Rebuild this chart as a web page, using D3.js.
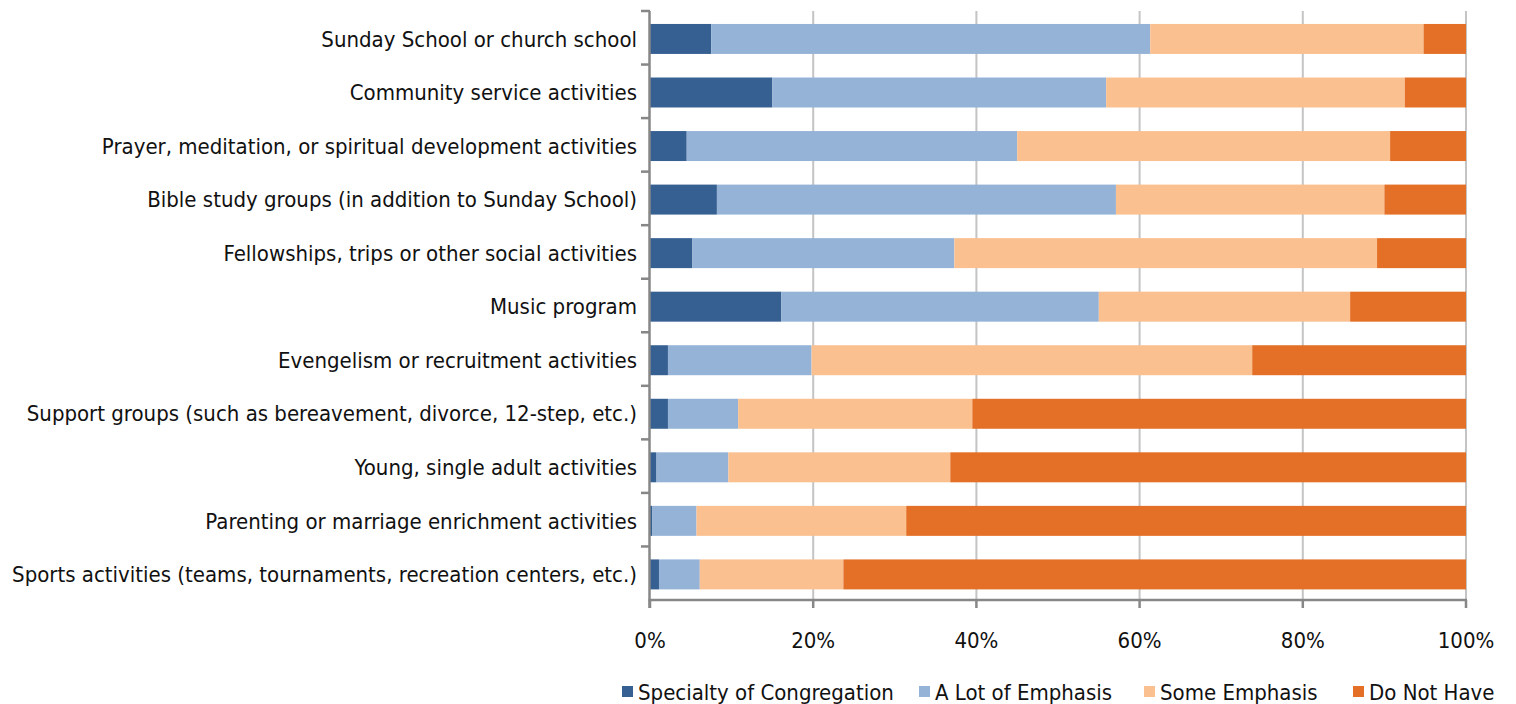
<!DOCTYPE html>
<html>
<head>
<meta charset="utf-8">
<script src="https://cdn.jsdelivr.net/npm/d3@7"></script>
<style>
  html, body { margin: 0; padding: 0; background: #fff; }
  svg { display: block; }
  text { font-family: "DejaVu Sans Condensed", "DejaVu Sans", sans-serif; font-stretch: condensed; fill: #111; }
</style>
</head>
<body>
<svg id="chart" width="1516" height="704"></svg>
<script>
// Program categories, top to bottom
const categories = [
  "Sunday School or church school",
  "Community service activities",
  "Prayer, meditation, or spiritual development activities",
  "Bible study groups (in addition to Sunday School)",
  "Fellowships, trips or other social activities",
  "Music program",
  "Evengelism or recruitment activities",
  "Support groups (such as bereavement, divorce, 12-step, etc.)",
  "Young, single adult activities",
  "Parenting or marriage enrichment activities",
  "Sports activities (teams, tournaments, recreation centers, etc.)"
];

const seriesNames = ["Specialty of Congregation", "A Lot of Emphasis", "Some Emphasis", "Do Not Have"];

// Percent of congregations in each response group
const specialty = [7.5, 15.0, 4.5, 8.2, 5.2, 16.1, 2.2, 2.2, 0.8, 0.3, 1.1];
const aLot      = [53.8, 40.9, 40.5, 48.9, 32.1, 38.9, 17.6, 8.6, 8.8, 5.4, 5.0];
const some      = [33.5, 36.6, 45.7, 32.9, 51.8, 30.8, 54.0, 28.7, 27.2, 25.7, 17.6];
const doNotHave = [5.2, 7.5, 9.3, 10.0, 10.9, 14.2, 26.2, 60.5, 63.2, 68.6, 76.3];

const xTicks = [0, 20, 40, 60, 80, 100];
const colors = ["#376092", "#95B3D7", "#FAC090", "#E37026"];

const rows = categories.map((c, i) => ({
  category: c,
  [seriesNames[0]]: specialty[i],
  [seriesNames[1]]: aLot[i],
  [seriesNames[2]]: some[i],
  [seriesNames[3]]: doNotHave[i]
}));

const svg = d3.select("#chart");
const plotLeft = 650, plotRight = 1466, plotTop = 11, plotBottom = 600;

const x = d3.scaleLinear().domain([0, 100]).range([plotLeft, plotRight]);
const y = d3.scaleBand().domain(categories).range([plotTop, plotBottom])
  .paddingInner(0.44).paddingOuter(0.22).align(0.55);
const color = d3.scaleOrdinal().domain(seriesNames).range(colors);

// vertical gridlines
svg.append("g").selectAll("line").data(xTicks.filter(d => d > 0)).join("line")
  .attr("x1", d => x(d)).attr("x2", d => x(d))
  .attr("y1", plotTop).attr("y2", plotBottom)
  .attr("stroke", "#c4c4c4").attr("stroke-width", 2);

// stacked bars
const stacked = d3.stack().keys(seriesNames)(rows);
svg.append("g").selectAll("g").data(stacked).join("g")
  .attr("fill", d => color(d.key))
  .selectAll("rect").data(d => d).join("rect")
  .attr("x", d => x(d[0]))
  .attr("width", d => x(d[1]) - x(d[0]))
  .attr("y", d => y(d.data.category))
  .attr("height", y.bandwidth());

// category axis with ticks between bands
const axisColor = "#878787";
const gY = svg.append("g");
gY.append("line").attr("x1", plotLeft - 0.5).attr("x2", plotLeft - 0.5)
  .attr("y1", plotTop).attr("y2", plotBottom + 8)
  .attr("stroke", axisColor).attr("stroke-width", 2.5);
const bounds = d3.range(categories.length + 1).map(i => plotTop + i * y.step());
gY.selectAll("line.tick").data(bounds.slice(0, -1)).join("line").attr("class", "tick")
  .attr("x1", plotLeft - 9).attr("x2", plotLeft).attr("y1", d => d).attr("y2", d => d)
  .attr("stroke", axisColor).attr("stroke-width", 2.5);
gY.selectAll("text").data(categories).join("text")
  .attr("x", plotLeft - 13)
  .attr("y", d => y(d) + y.bandwidth() / 2)
  .attr("dy", "0.35em")
  .attr("text-anchor", "end")
  .attr("font-size", 22)
  .text(d => d);

// percentage axis
const gX = svg.append("g");
gX.append("line").attr("x1", plotLeft - 1.5).attr("x2", plotRight + 1)
  .attr("y1", plotBottom).attr("y2", plotBottom)
  .attr("stroke", axisColor).attr("stroke-width", 2.5);
gX.selectAll("line.tick").data(xTicks).join("line").attr("class", "tick")
  .attr("x1", d => x(d)).attr("x2", d => x(d))
  .attr("y1", plotBottom).attr("y2", plotBottom + 8)
  .attr("stroke", axisColor).attr("stroke-width", 2.5);
gX.selectAll("text").data(xTicks).join("text")
  .attr("x", d => x(d))
  .attr("y", 648)
  .attr("text-anchor", "middle")
  .attr("font-size", 22)
  .text(d => d + "%");

// legend
const legendX = [622, 919, 1144, 1353];
const lg = svg.append("g").selectAll("g").data(seriesNames).join("g")
  .attr("transform", (d, i) => `translate(${legendX[i]},692)`);
lg.append("rect").attr("x", 0).attr("y", -6).attr("width", 11).attr("height", 11)
  .attr("fill", d => color(d));
lg.append("text").attr("x", 16).attr("y", 0).attr("dy", "0.35em")
  .attr("font-size", 22).text(d => d);
</script>
</body>
</html>
